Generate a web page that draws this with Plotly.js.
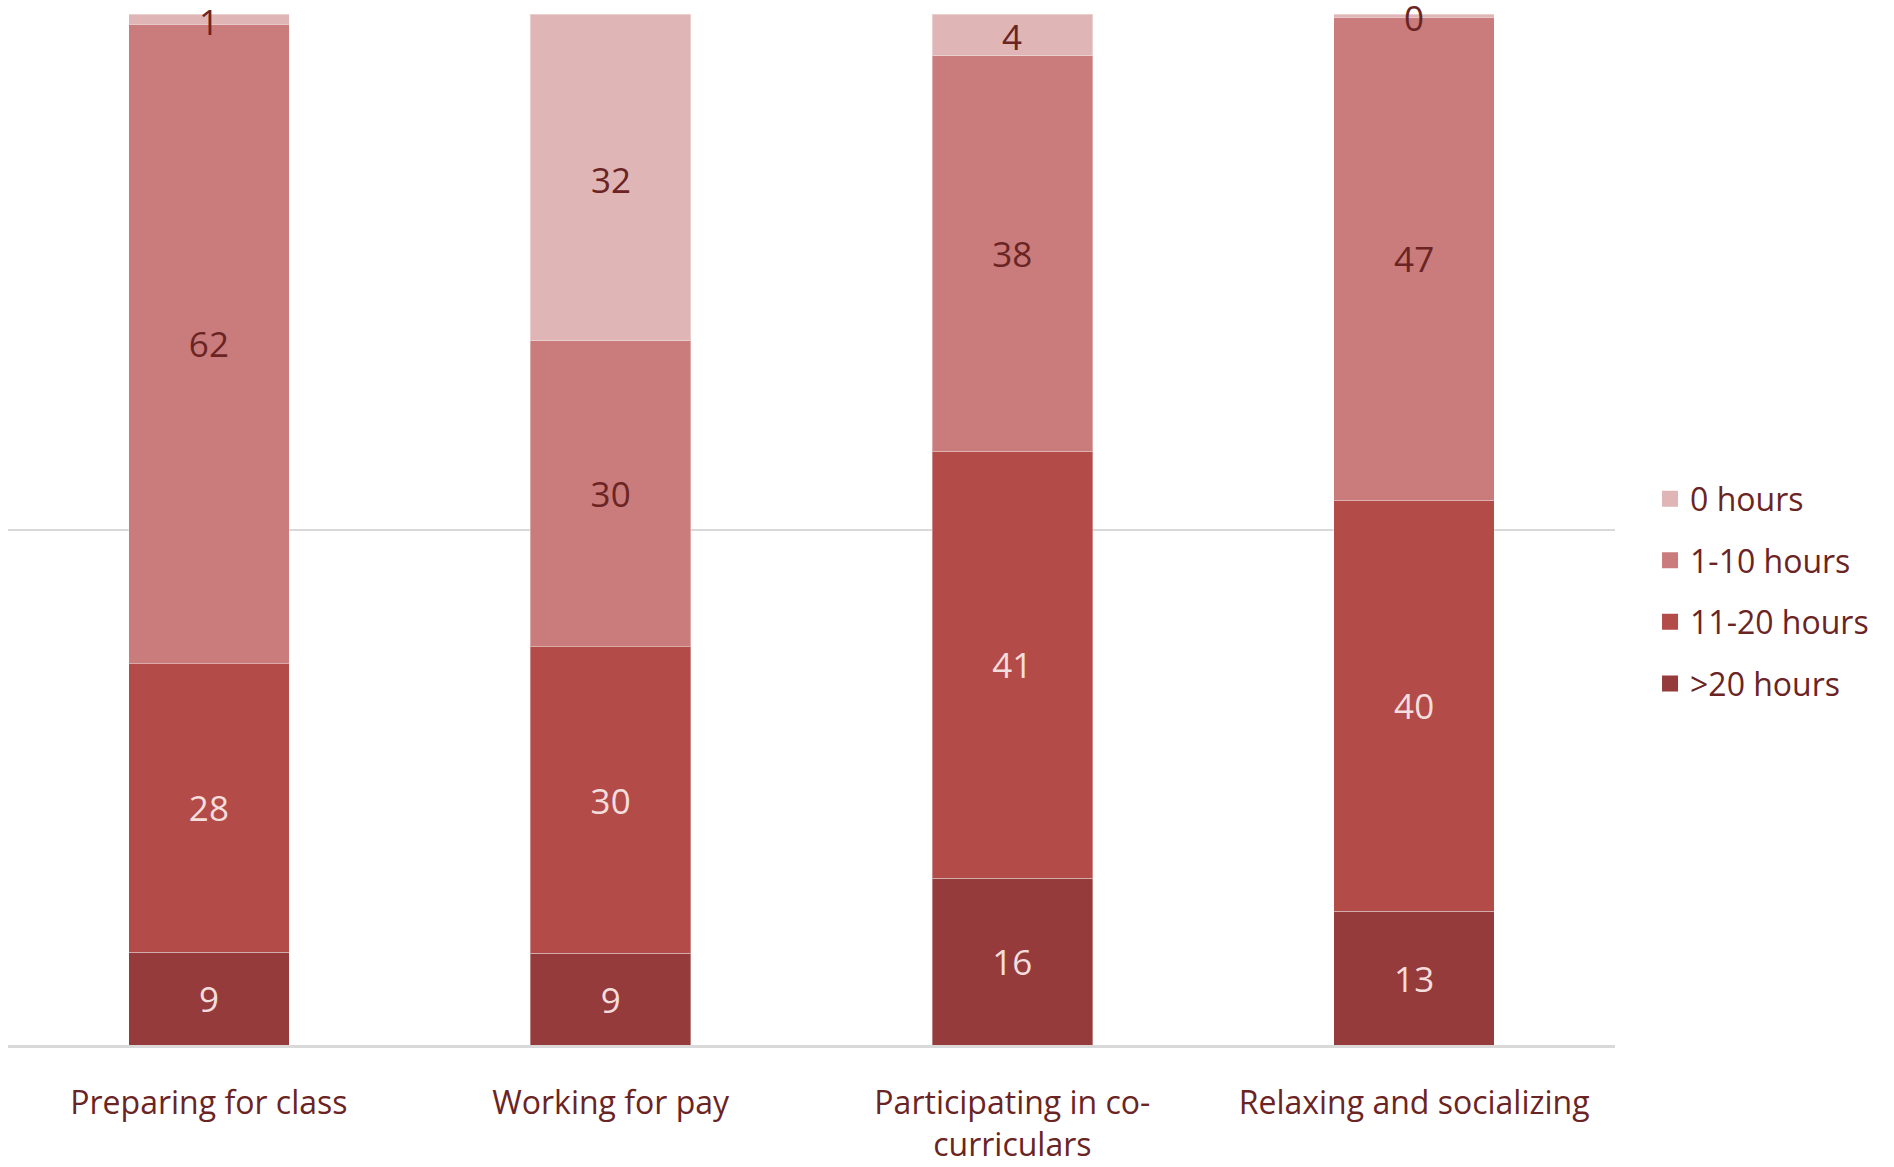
<!DOCTYPE html>
<html>
<head>
<meta charset="utf-8">
<script src="https://cdn.plot.ly/plotly-3.0.1.min.js"></script>
<style>html,body{margin:0;padding:0;background:#fff;}#chart{width:1894px;height:1167px;}</style>
</head>
<body>
<div id="chart"></div>
<script>
// Categories and tick labels
const categories = ['Preparing for class', 'Working for pay', 'Participating in co-curriculars', 'Relaxing and socializing'];
const tickLabels = ['Preparing for class', 'Working for pay', 'Participating in co-<br>curriculars', 'Relaxing and socializing'];

// Series values (percent of students)
const over20Hours = [9, 9, 16, 13];
const hours11to20 = [28, 30, 41, 40];
const hours1to10 = [62, 30, 38, 47];
const zeroHours = [1, 32, 4, 0.3];

const seriesNames = ['>20 hours', '11-20 hours', '1-10 hours', '0 hours'];
const seriesValues = [over20Hours, hours11to20, hours1to10, zeroHours];
const seriesColors = ['#963B3B', '#B34B48', '#C97C7B', '#DFB6B5'];
const labelColors = ['#F4DEDD', '#F4DEDD', '#6B2424', '#6B2424'];

const FONT = 'Open Sans, Noto Sans, sans-serif';

// stacked bars (last series = top segment)
const traces = seriesValues.map((vals, i) => {
  const isTop = i === seriesValues.length - 1;
  return {
    type: 'bar',
    name: seriesNames[i],
    x: categories,
    y: vals,
    text: isTop ? null : vals,
    texttemplate: isTop ? null : '%{text:.0f}',
    textposition: isTop ? 'none' : 'inside',
    insidetextanchor: 'middle',
    constraintext: 'none',
    textangle: 0,
    cliponaxis: false,
    insidetextfont: {family: FONT, size: 35, color: labelColors[i]},
    marker: {color: seriesColors[i], line: {color: 'rgba(255,255,255,0.35)', width: 1}},
    showlegend: false,
    hoverinfo: 'skip'
  };
});

// labels for the (often thin) top segment, centred on that segment (positions derived from data)
const totals = categories.map((_, j) => seriesValues.reduce((s, v) => s + v[j], 0));
const topMid = categories.map((_, j) => 100 - (zeroHours[j] / totals[j] * 100) / 2);
const annotations = categories.map((c, j) => ({
  x: c,
  y: topMid[j],
  xref: 'x',
  yref: 'y',
  text: String(Math.round(zeroHours[j])),
  showarrow: false,
  yshift: -2,
  font: {family: FONT, size: 35, color: labelColors[3]}
}));

// legend entries (top segment listed first)
for (let i = seriesNames.length - 1; i >= 0; i--) {
  traces.push({
    type: 'scatter',
    mode: 'markers',
    name: seriesNames[i],
    x: [null],
    y: [null],
    marker: {symbol: 'square', size: 16, color: seriesColors[i]},
    legendgroup: 'g' + i,
    legendrank: seriesNames.length - i,
    showlegend: true,
    hoverinfo: 'skip'
  });
}

const layout = {
  width: 1894,
  height: 1167,
  margin: {l: 8, r: 279, t: 14, b: 122},
  paper_bgcolor: '#ffffff',
  plot_bgcolor: '#ffffff',
  barmode: 'stack',
  barnorm: 'percent',
  bargap: 0.6,
  showlegend: true,
  font: {family: FONT, color: '#6B2424'},
  annotations: annotations,
  xaxis: {
    type: 'category',
    categoryorder: 'array',
    categoryarray: categories,
    tickmode: 'array',
    tickvals: categories,
    ticktext: tickLabels,
    tickfont: {family: FONT, size: 32, color: '#6B2424'},
    ticks: 'outside',
    ticklen: 28,
    tickcolor: 'rgba(0,0,0,0)',
    showline: true,
    linecolor: '#D9D9D9',
    linewidth: 3,
    showgrid: false,
    zeroline: false,
    fixedrange: true
  },
  yaxis: {
    range: [0, 100],
    tickvals: [0, 50, 100],
    showticklabels: false,
    showgrid: true,
    gridcolor: '#D9D9D9',
    gridwidth: 2,
    zeroline: false,
    showline: false,
    fixedrange: true
  },
  legend: {
    x: 1.0218,
    xanchor: 'left',
    y: 0.44,
    yanchor: 'middle',
    traceorder: 'grouped',
    tracegroupgap: 17,
    font: {family: FONT, size: 32, color: '#6B2424'},
    bgcolor: 'rgba(0,0,0,0)'
  }
};

Plotly.newPlot('chart', traces, layout, {displayModeBar: false, staticPlot: true});
</script>
</body>
</html>
